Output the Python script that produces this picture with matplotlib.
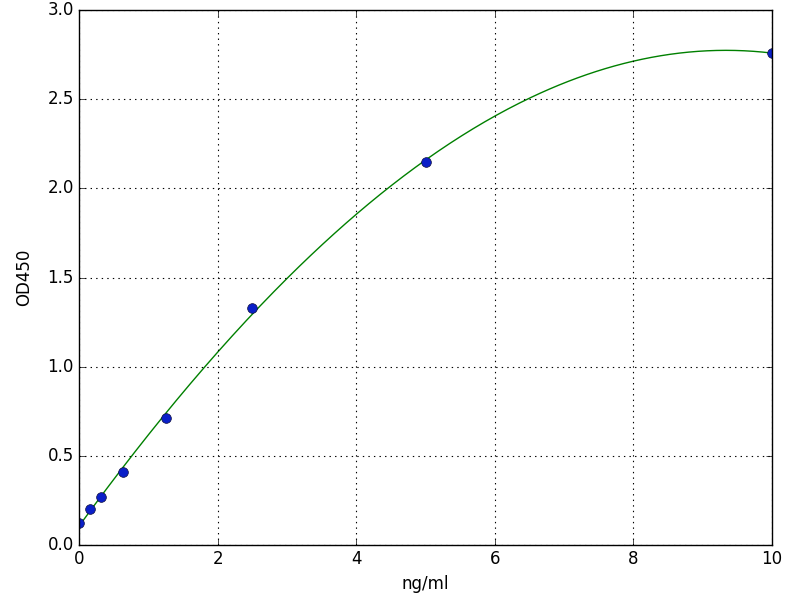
import numpy as np
import matplotlib
matplotlib.use("Agg")
import matplotlib.pyplot as plt

conc = [0.0, 0.156, 0.3125, 0.625, 1.25, 2.5, 5.0, 10.0]
od = [0.12, 0.20, 0.27, 0.41, 0.71, 1.33, 2.15, 2.76]

plt.style.use("classic")
fig = plt.figure(figsize=(8, 6), dpi=100, facecolor="white")
ax = fig.add_axes([0.099, 0.092, 0.866, 0.891])

coef = np.polyfit(conc, od, 3)
xs = np.linspace(0, 10, 300)
ax.plot(xs, np.polyval(coef, xs), color="green", lw=1)
ax.plot(conc, od, "o", color="#0a1fc8", markeredgecolor="#101040", markersize=7)

ax.set_xlim(0, 10)
ax.set_ylim(0, 3.0)
ax.set_xticks([0, 2, 4, 6, 8, 10])
ax.set_yticks([0.0, 0.5, 1.0, 1.5, 2.0, 2.5, 3.0])
ax.grid(True, color="black", linestyle=":", linewidth=0.8)
ax.set_xlabel("ng/ml", fontsize=12)
ax.set_ylabel("OD450", fontsize=12, labelpad=10)
ax.tick_params(labelsize=12)

fig.savefig("out.png", dpi=100, facecolor="white")
